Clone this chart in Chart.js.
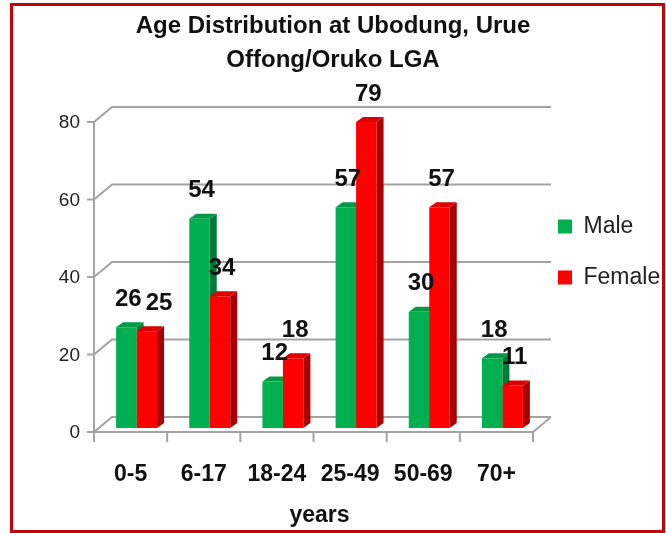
<!DOCTYPE html>
<html lang="en">
<head>
  <meta charset="UTF-8" />
  <title>Age Distribution at Ubodung, Urue Offong/Oruko LGA</title>
  <script src="https://cdn.jsdelivr.net/npm/chart.js"></script>
  <style>
    body { margin: 0; background: #fff; }
    .wrap { position: relative; width: 666px; height: 533px; }
    .frame { position: absolute; left: 10px; top: 3px; width: 655px; height: 530px;
             box-sizing: border-box; border: 3px solid #c8000a; pointer-events: none; }
  </style>
</head>
<body>
  <div class="wrap">
    <canvas id="ageChart" width="666" height="533"></canvas>
    <div class="frame"></div>
  </div>

  <script>
    const ageGroups = ['0-5', '6-17', '18-24', '25-49', '50-69', '70+'];
    const maleCounts = [26, 54, 12, 57, 30, 18];
    const femaleCounts = [25, 34, 18, 79, 57, 11];
    const yTickStep = 20;
    const yMax = 80;

    const fontFamily = '"Liberation Sans", Arial, sans-serif';
    Chart.defaults.font.family = fontFamily;

    // fake 3D look: bar depth, front frame and back wall shifts
    const depthX = 7, depthY = 5;
    const frontDX = -6, frontDY = 4;
    const wallDX = 18, wallDY = -15;

    const frame3d = {
      id: 'frame3d',
      beforeDatasetsDraw(chart) {
        const { ctx, chartArea: a, scales: { x, y } } = chart;
        const fx0 = a.left + frontDX, fx1 = a.right + frontDX;
        ctx.save();
        ctx.strokeStyle = '#a3a3a3';
        ctx.lineWidth = 2;
        // gridlines on back wall, joined to front axis ticks
        y.ticks.forEach(t => {
          const fy = y.getPixelForValue(t.value) + frontDY;
          ctx.beginPath();
          ctx.moveTo(fx0 - 7, fy);
          ctx.lineTo(fx0, fy);
          ctx.lineTo(fx0 + wallDX, fy + wallDY);
          ctx.lineTo(fx1 + wallDX, fy + wallDY);
          ctx.stroke();
        });
        const top = y.getPixelForValue(y.max) + frontDY;
        const floor = y.getPixelForValue(0) + frontDY;
        ctx.beginPath();
        ctx.moveTo(fx0, top);
        ctx.lineTo(fx0, floor);
        ctx.lineTo(fx1, floor);
        ctx.lineTo(fx1 + wallDX, floor + wallDY);
        ctx.stroke();
        // category tick marks
        for (let i = 0; i <= chart.data.labels.length; i++) {
          const px = x.getPixelForValue(i - 0.5) + frontDX;
          ctx.beginPath();
          ctx.moveTo(px, floor);
          ctx.lineTo(px, floor + 10);
          ctx.stroke();
        }
        // side and top faces of the bars
        chart.data.datasets.forEach((ds, di) => {
          chart.getDatasetMeta(di).data.forEach(bar => {
            const { x: cx, y: by, base, width } = bar.getProps(['x', 'y', 'base', 'width'], true);
            const l = cx - width / 2, r = cx + width / 2;
            ctx.fillStyle = ds.sideColor;
            ctx.beginPath();
            ctx.moveTo(r, by);
            ctx.lineTo(r + depthX, by - depthY);
            ctx.lineTo(r + depthX, base - depthY);
            ctx.lineTo(r, base);
            ctx.closePath();
            ctx.fill();
            ctx.fillStyle = ds.topColor;
            ctx.beginPath();
            ctx.moveTo(l, by);
            ctx.lineTo(l + depthX, by - depthY);
            ctx.lineTo(r + depthX, by - depthY);
            ctx.lineTo(r, by);
            ctx.closePath();
            ctx.fill();
          });
        });
        ctx.restore();
      }
    };

    const valueLabels = {
      id: 'valueLabels',
      afterDatasetsDraw(chart) {
        const { ctx } = chart;
        ctx.save();
        ctx.font = 'bold 24px ' + fontFamily;
        ctx.fillStyle = '#111';
        ctx.textAlign = 'center';
        ctx.textBaseline = 'middle';
        chart.data.labels.forEach((lbl, i) => {
          const items = chart.data.datasets.map((ds, di) => {
            const bar = chart.getDatasetMeta(di).data[i];
            const text = String(ds.data[i]);
            return { text, x: bar.x + 2, y: bar.y - 28, w: ctx.measureText(text).width };
          });
          // push apart labels that collide
          const [m, f] = items;
          if (Math.abs(m.y - f.y) < 22) {
            const gap = (m.w + f.w) / 2 + 4;
            if (f.x - m.x < gap) {
              if (f.y >= m.y) f.x = m.x + gap; else m.x = f.x - gap;
            }
          }
          items.forEach(it => ctx.fillText(it.text, it.x, it.y));
        });
        ctx.restore();
      }
    };

    new Chart(document.getElementById('ageChart'), {
      type: 'bar',
      data: {
        labels: ageGroups,
        datasets: [
          {
            label: 'Male',
            data: maleCounts,
            backgroundColor: '#00b050',
            sideColor: '#007a36',
            topColor: '#009944',
            borderWidth: 0
          },
          {
            label: 'Female',
            data: femaleCounts,
            backgroundColor: '#ff0000',
            sideColor: '#a80000',
            topColor: '#dd0000',
            borderWidth: 0
          }
        ]
      },
      options: {
        responsive: false,
        animation: false,
        layout: { padding: 0 },
        datasets: { bar: { categoryPercentage: 0.56, barPercentage: 1.0 } },
        plugins: {
          title: {
            display: true,
            text: ['Age Distribution at Ubodung, Urue', 'Offong/Oruko LGA'],
            color: '#111',
            font: { size: 24, weight: 'bold', lineHeight: 1.417 },
            padding: { top: 9, bottom: 41 }
          },
          legend: {
            position: 'right',
            align: 'start',
            maxWidth: 127,
            // empty title only used to push the items down
            title: { display: true, text: '', font: { size: 10, lineHeight: 1.2 }, padding: 92 },
            labels: {
              boxWidth: 14,
              boxHeight: 14,
              padding: 19,
              color: '#222',
              font: { size: 23, lineHeight: 1.39 },
              generateLabels: chart => Chart.defaults.plugins.legend.labels.generateLabels(chart)
                .map(item => ({ ...item, text: [item.text] }))
            }
          },
          tooltip: { enabled: false }
        },
        scales: {
          x: {
            grid: { display: false, drawTicks: false },
            border: { display: false },
            ticks: { color: '#111', font: { size: 23, weight: 'bold' }, padding: 33, labelOffset: -6, maxRotation: 0 },
            title: { display: true, text: 'years', color: '#111', font: { size: 23, weight: 'bold' }, padding: { top: 0, bottom: 4 } },
            afterFit: scale => { scale.height = 105; }
          },
          y: {
            min: 0,
            max: yMax,
            grid: { display: false, drawTicks: false },
            border: { display: false },
            ticks: { stepSize: yTickStep, color: '#222', font: { size: 19 }, padding: 20, labelOffset: 5 },
            afterFit: scale => { scale.width = 100; }
          }
        }
      },
      plugins: [frame3d, valueLabels]
    });
  </script>
</body>
</html>
